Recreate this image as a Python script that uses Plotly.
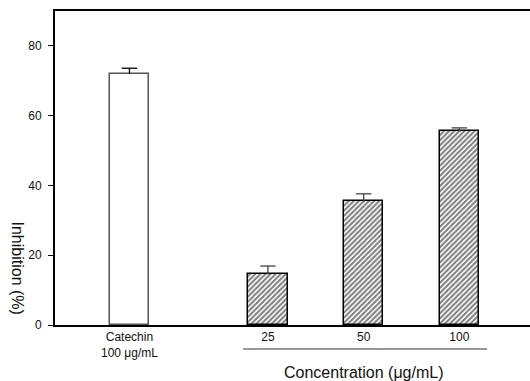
import plotly.graph_objects as go

# Data
control_label = "Catechin<br>100 μg/mL"
control_value = [72.0]
control_err = [1.6]

concentrations = ["25", "50", "100"]
sample_values = [14.5, 35.4, 55.5]
sample_errs = [2.4, 2.2, 1.0]

y_ticks = [0, 20, 40, 60, 80]

# positions (layout)
gap = 1.447
x_control = [0]
x_samples = [gap + i for i in range(len(concentrations))]
bar_w = 0.41

FONT = "Liberation Sans, Arial, sans-serif"

fig = go.Figure()
fig.add_trace(go.Bar(
    x=x_control, y=control_value, width=bar_w,
    marker=dict(color="white", line=dict(color="#555555", width=1.5)),
    showlegend=False, hoverinfo="skip",
))
fig.add_trace(go.Bar(
    x=x_samples, y=sample_values, width=bar_w,
    marker=dict(color="white", line=dict(color="black", width=1.5),
                pattern=dict(shape="/", fgcolor="black", bgcolor="white", size=3.6, solidity=0.55)),
    showlegend=False, hoverinfo="skip",
))

# upward-only error bars
def add_err(xs, vals, errs, color):
    lx, ly = [], []
    for x, v, e in zip(xs, vals, errs):
        lx += [x, x, None]
        ly += [v, v + e, None]
    fig.add_trace(go.Scatter(x=lx, y=ly, mode="lines", line=dict(color=color, width=1.3),
                             showlegend=False, hoverinfo="skip"))
    fig.add_trace(go.Scatter(x=xs, y=[v + e for v, e in zip(vals, errs)], mode="markers",
                             marker=dict(symbol="line-ew", size=11,
                                         line=dict(color=color, width=1.3)),
                             showlegend=False, hoverinfo="skip"))

add_err(x_control, control_value, control_err, "black")
add_err(x_samples, sample_values, sample_errs, "#444444")

fig.update_layout(
    width=530, height=381,
    margin=dict(l=55, r=0, t=11, b=56),
    paper_bgcolor="white", plot_bgcolor="white",
    font=dict(family=FONT, size=12, color="#111111"),
    xaxis=dict(
        range=[-0.778, 4.185],
        tickvals=x_control + x_samples,
        ticktext=[control_label] + concentrations,
        showline=True, linecolor="black", linewidth=2, mirror=True,
        ticks="", showgrid=False, zeroline=False,
        tickfont=dict(size=12),
    ),
    yaxis=dict(
        range=[0, 90],
        tickvals=y_ticks,
        showline=True, linecolor="black", linewidth=2, mirror=False,
        ticks="outside", ticklen=5, tickwidth=1, tickcolor="black",
        showgrid=False, zeroline=False,
        tickfont=dict(size=12),
        ticklabelstandoff=4,
    ),
    bargap=0,
    barmode="overlay",
)

fig.add_shape(type="line", xref="x", yref="paper",
              x0=x_samples[0] - 0.26, x1=x_samples[-1] + 0.29, y0=-0.0764, y1=-0.0764,
              line=dict(color="#333333", width=1))

fig.add_annotation(text="Concentration (μg/mL)", xref="x", yref="paper",
                   x=x_samples[len(x_samples) // 2], y=-0.15, yanchor="middle",
                   showarrow=False, font=dict(size=16, family=FONT, color="#111111"))
fig.add_annotation(text="Inhibition (%)", xref="paper", yref="paper",
                   x=-0.078, y=0.18, xanchor="center", yanchor="middle", textangle=90,
                   showarrow=False, font=dict(size=16, family=FONT, color="#111111"))

fig.write_html("out.html")
